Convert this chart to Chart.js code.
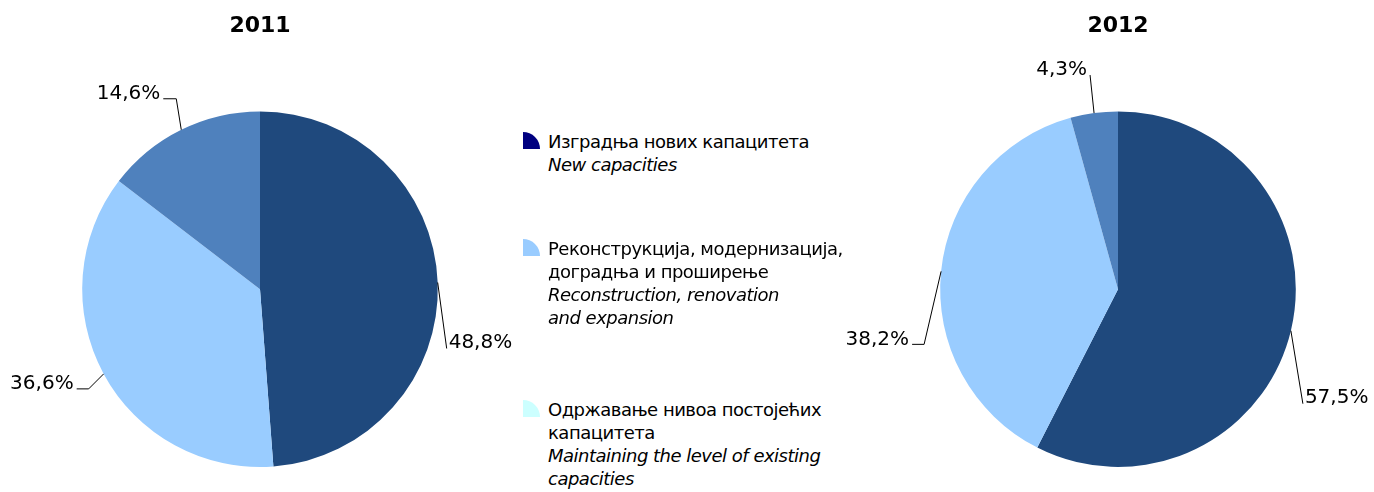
<!DOCTYPE html>
<html>
<head>
<meta charset="utf-8">
<script src="https://cdn.jsdelivr.net/npm/chart.js@4"></script>
<style>
  body { margin: 0; width: 1374px; height: 492px; overflow: hidden; background: #fff; font-family: "DejaVu Sans", sans-serif; }
  #c1 { position: absolute; left: 0; top: 0; }
  #c2 { position: absolute; left: 838px; top: 0; }
  .legend { position: absolute; left: 523px; font-size: 18px; line-height: 23px; letter-spacing: -0.5px; color: #000; }
  .legend .icon { position: absolute; left: 0; top: 2px; width: 17px; height: 17px; border-top-right-radius: 100%; }
  .legend .txt { margin-left: 25px; white-space: nowrap; }
  .legend i { font-style: italic; }
</style>
</head>
<body>
<canvas id="c1" width="520" height="492"></canvas>
<canvas id="c2" width="536" height="492"></canvas>
<div id="legend"></div>
<script>
var categories = ['Изградња нових капацитета', 'Реконструкција, модернизација, доградња и проширење', 'Одржавање нивоа постојећих капацитета'];
var categoriesEn = ['New capacities', 'Reconstruction, renovation and expansion', 'Maintaining the level of existing capacities'];
var years = ['2011', '2012'];
var values2011 = [48.8, 36.6, 14.6];
var values2012 = [57.5, 38.2, 4.3];

var sliceColors = ['#1F497D', '#99CCFF', '#4F81BD'];
var legendColors = ['#000080', '#99CCFF', '#CCFFFF'];

// legend text is split the same way as in the original
var legendLines = [
    [['Изградња нових капацитета'], ['New capacities']],
    [['Реконструкција, модернизација,', 'доградња и проширење'], ['Reconstruction, renovation', 'and expansion']],
    [['Одржавање нивоа постојећих', 'капацитета'], ['Maintaining the level of existing', 'capacities']]
];
var legendTops = [130, 237, 398];

var legendDiv = document.getElementById('legend');
legendLines.forEach(function (item, i) {
    var d = document.createElement('div');
    d.className = 'legend';
    d.style.top = legendTops[i] + 'px';
    d.innerHTML = '<div class="icon" style="background:' + legendColors[i] + '"></div>' +
        '<div class="txt">' + item[0].join('<br>') + '<br><i>' + item[1].join('<br>') + '</i></div>';
    legendDiv.appendChild(d);
});

// draws the percent labels with leader lines
var leaderLabels = {
    id: 'leaderLabels',
    afterDatasetsDraw: function (chart, args, opts) {
        var ctx = chart.ctx;
        var meta = chart.getDatasetMeta(0);
        var data = chart.data.datasets[0].data;
        ctx.save();
        ctx.font = '20px "DejaVu Sans"';
        ctx.fillStyle = '#000';
        ctx.strokeStyle = '#000';
        ctx.lineWidth = 1;
        meta.data.forEach(function (arc, i) {
            var p = arc.getProps(['x', 'y', 'startAngle', 'endAngle', 'outerRadius'], true);
            var mid = (p.startAngle + p.endAngle) / 2;
            var ax = p.x + Math.cos(mid) * p.outerRadius;
            var ay = p.y + Math.sin(mid) * p.outerRadius;
            var l = opts.leaders[i];
            var ex = ax + l.dx, ey = ay + l.dy;
            ctx.beginPath();
            ctx.moveTo(ax, ay);
            ctx.lineTo(ex, ey);
            if (l.tail) ctx.lineTo(ex + l.tail, ey);
            ctx.stroke();
            var txt = data[i].toFixed(1).replace('.', ',') + '%';
            ctx.textBaseline = 'middle';
            if (l.side === 'left') {
                ctx.textAlign = 'right';
                ctx.fillText(txt, ex + (l.tail || 0) - 3, ey - 5);
            } else {
                ctx.textAlign = 'left';
                ctx.fillText(txt, ex + 2, ey - 6);
            }
        });
        ctx.restore();
    }
};

function makePie(id, year, values, padding, leaders) {
    return new Chart(document.getElementById(id), {
        type: 'pie',
        data: {
            labels: categories,
            datasets: [{
                data: values,
                backgroundColor: sliceColors,
                borderWidth: 0
            }]
        },
        options: {
            responsive: false,
            animation: false,
            layout: { padding: padding },
            plugins: {
                legend: { display: false },
                tooltip: { enabled: false },
                title: {
                    display: true,
                    text: year,
                    color: '#000',
                    font: { family: 'DejaVu Sans', size: 22, weight: 'bold' },
                    padding: { top: 13, bottom: 72 }
                },
                leaderLabels: { leaders: leaders }
            }
        },
        plugins: [leaderLabels]
    });
}

makePie('c1', years[0], values2011, { left: 0, right: 0, top: 0, bottom: 25 }, [
    { dx: 9, dy: 66, side: 'right' },
    { dx: -15, dy: 15, tail: -12, side: 'left' },
    { dx: -5, dy: -31, tail: -13, side: 'left' }
]);

makePie('c2', years[1], values2012, { left: 24, right: 0, top: 0, bottom: 25 }, [
    { dx: 12, dy: 73, side: 'right' },
    { dx: -17, dy: 73, tail: -12, side: 'left' },
    { dx: -4, dy: -38, side: 'left' }
]);
</script>
</body>
</html>
